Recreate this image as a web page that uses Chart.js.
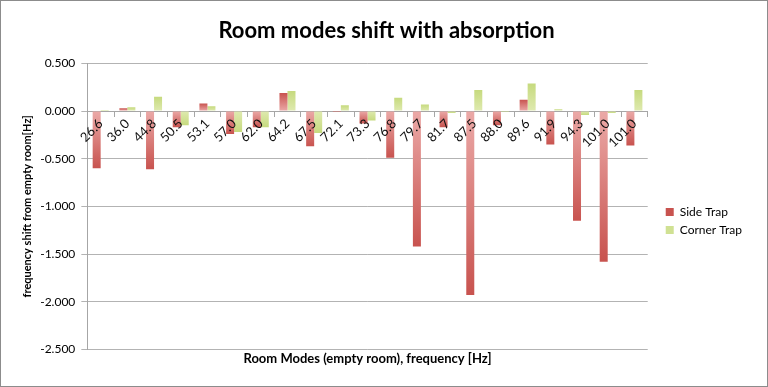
<!DOCTYPE html>
<html>
<head>
<meta charset="utf-8">
<script src="https://cdn.jsdelivr.net/npm/chart.js@4.4.0/dist/chart.umd.min.js"></script>
<style>
    html, body { margin: 0; padding: 0; background: #fff; }
    #wrap {
        width: 768px; height: 387px; box-sizing: border-box;
        border: 1px solid #8c8c8c; position: relative;
    }
</style>
</head>
<body>
<div id="wrap"><canvas id="chart"></canvas></div>
<script>
// Datos
const modes = ['26.6', '36.0', '44.8', '50.5', '53.1', '57.0', '62.0', '64.2', '67.5', '72.1',
               '73.3', '76.8', '79.7', '81.7', '87.5', '88.0', '89.6', '91.9', '94.3', '101.0', '101.0'];
const sideTrap = [-0.60, 0.03, -0.61, -0.17, 0.08, -0.24, -0.17, 0.19, -0.37, -0.01,
                  -0.13, -0.49, -1.42, -0.17, -1.93, -0.15, 0.12, -0.35, -1.15, -1.58, -0.36];
const cornerTrap = [0.01, 0.04, 0.15, -0.15, 0.05, -0.22, -0.17, 0.21, -0.23, 0.06,
                    -0.10, 0.14, 0.07, -0.02, 0.22, -0.01, 0.29, 0.02, -0.04, -0.02, 0.22];
const yTicks = [0.5, 0, -0.5, -1, -1.5, -2, -2.5];

const fontFamily = 'Lato, "Open Sans", sans-serif';

// Degradado por barra: claro en la base, más oscuro en la punta
function barGradient(light, dark, solid) {
    return function(context) {
        const chart = context.chart;
        const y = chart.scales && chart.scales.y;
        if (context.type !== 'data' || !y || context.parsed == null) return solid;
        const y0 = y.getPixelForValue(0);
        const y1 = y.getPixelForValue(context.parsed.y);
        if (!isFinite(y0) || !isFinite(y1) || Math.abs(y1 - y0) < 1) return solid;
        const g = chart.ctx.createLinearGradient(0, y0, 0, y1);
        g.addColorStop(0, light);
        g.addColorStop(1, dark);
        return g;
    };
}

document.addEventListener('DOMContentLoaded', function() {
    const ctx = document.getElementById('chart');
    ctx.width = 766;
    ctx.height = 385;

    new Chart(ctx, {
        type: 'bar',
        data: {
            labels: modes,
            datasets: [{
                label: 'Side Trap',
                data: sideTrap,
                backgroundColor: barGradient('#eba9a7', '#c8534f', '#d46e6b'),
                categoryPercentage: 0.6,
                barPercentage: 1.0
            }, {
                label: 'Corner Trap',
                data: cornerTrap,
                backgroundColor: barGradient('#dfeab0', '#c6da7e', '#d0e193'),
                categoryPercentage: 0.6,
                barPercentage: 1.0
            }]
        },
        options: {
            responsive: false,
            animation: false,
            layout: { padding: { left: 20, right: 15, top: 0, bottom: 19 } },
            plugins: {
                title: {
                    display: true,
                    text: 'Room modes shift with absorption',
                    color: '#000',
                    font: { family: fontFamily, size: 22, weight: 'bold' },
                    padding: { top: 17, bottom: 19 }
                },
                legend: {
                    position: 'right',
                    title: {
                        display: true,
                        text: ' ',
                        font: { size: 10 },
                        padding: { top: 31, bottom: 31 }
                    },
                    labels: {
                        boxWidth: 8,
                        boxHeight: 8,
                        color: '#000',
                        padding: 6,
                        font: { family: fontFamily, size: 12 }
                    }
                },
                tooltip: { enabled: false }
            },
            scales: {
                x: {
                    type: 'category',
                    position: { y: 0 },
                    grid: { drawOnChartArea: false, drawTicks: true, tickLength: 5, color: '#a6a6a6', offset: true },
                    border: { color: '#a6a6a6' },
                    ticks: {
                        z: 1,
                        minRotation: 45,
                        maxRotation: 45,
                        autoSkip: false,
                        color: '#111',
                        padding: 0,
                        font: { family: fontFamily, size: 13 }
                    }
                },
                x2: {
                    type: 'category',
                    axis: 'x',
                    position: 'bottom',
                    grid: { display: false, drawTicks: false, tickLength: 0 },
                    border: { display: false },
                    ticks: { display: false, padding: 0 },
                    title: {
                        display: true,
                        text: 'Room Modes (empty room), frequency [Hz]',
                        color: '#000',
                        font: { family: fontFamily, size: 13, weight: 'bold' },
                        padding: { top: 2, bottom: 0 }
                    }
                },
                y: {
                    min: -2.5,
                    max: 0.5,
                    afterBuildTicks: function(axis) {
                        axis.ticks = yTicks.map(v => ({ value: v }));
                    },
                    grid: { color: '#b3b3b3', tickLength: 6 },
                    border: { color: '#a6a6a6' },
                    ticks: {
                        color: '#000',
                        padding: 6,
                        font: { family: fontFamily, size: 12 },
                        callback: v => Number(v).toFixed(3)
                    },
                    title: {
                        display: true,
                        text: 'frequency shift from empty room[Hz]',
                        color: '#000',
                        font: { family: fontFamily, size: 11, weight: 'bold' },
                        padding: { top: 0, bottom: 0 }
                    }
                },
                // eje vacío a la derecha, solo para dejar hueco antes de la leyenda
                yGap: {
                    type: 'linear',
                    position: 'right',
                    min: 0,
                    max: 1,
                    grid: { display: false, drawTicks: false },
                    border: { display: false },
                    ticks: { display: false },
                    title: { display: true, text: ' ', font: { size: 10 }, padding: 0 }
                }
            }
        }
    });
});
</script>
</body>
</html>
